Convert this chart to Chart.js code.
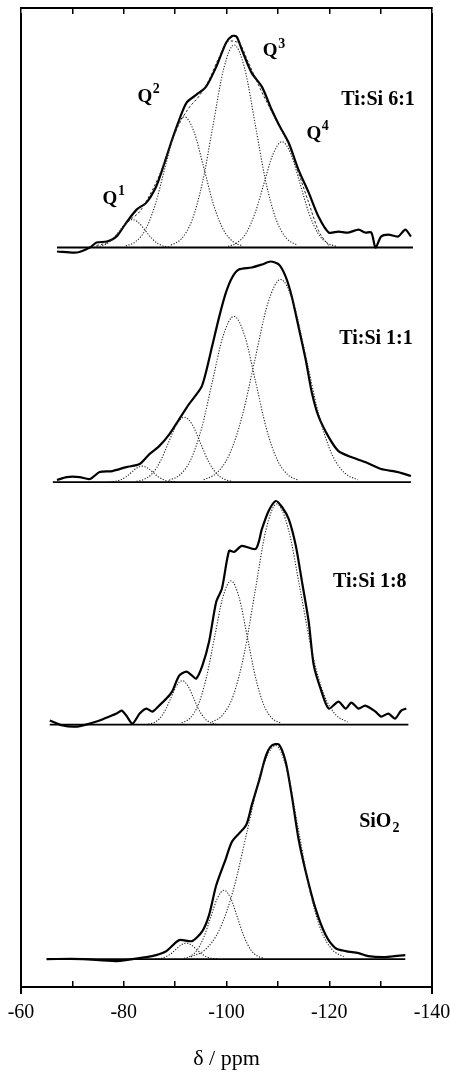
<!DOCTYPE html>
<html>
<head>
<meta charset="utf-8">
<script src="https://cdn.jsdelivr.net/npm/chart.js@4.4.1/dist/chart.umd.min.js"></script>
<style>
  html, body { margin: 0; padding: 0; background: #fff; }
</style>
</head>
<body>
<canvas id="nmr" width="450" height="1078"></canvas>
<script>
// 29Si MAS NMR spectra, shift in ppm, intensity in a.u. above each panel's baseline
const panelNames = ['Ti:Si 6:1', 'Ti:Si 1:1', 'Ti:Si 1:8', 'SiO2'];
const panelOffsets = [747, 512, 269, 34];
const baselineRange = [[-67.0, -136.3], [-66.2, -135.9], [-65.6, -135.4], [-65.0, -134.8]];
const qNames = ['1', '2', '3', '4'];

// Ti:Si 6:1
const exp61 = [[-67.0,-4],[-70.9,-5],[-73.4,0],[-74.7,5],[-76.7,6],[-78.6,11],[-80.5,25],[-82.5,38],[-84.4,45],[-86.3,61],[-87.5,78],[-89.4,108],[-90.8,128],[-92.2,145],[-94.1,153],[-96.0,161],[-98.0,181],[-99.9,205],[-101.1,212],[-102.0,211],[-103.0,198],[-104.9,175],[-106.9,161],[-108.8,138],[-110.2,123],[-112.1,105],[-114.0,78],[-116.0,55],[-117.9,31],[-119.9,15],[-121.8,16],[-123.7,15],[-125.7,18],[-127.0,15],[-128.2,15],[-129.0,0],[-130.1,11],[-131.5,13],[-133.4,11],[-134.8,18],[-135.9,11]];
const fit61 = [[-74.7,2],[-77.2,6],[-79.2,16],[-81.1,27],[-83.1,36],[-85.0,52],[-86.9,72],[-88.9,100],[-90.8,124],[-92.7,140],[-94.7,152],[-96.6,168],[-98.5,190],[-100.5,207],[-102.4,205],[-104.3,185],[-106.3,162],[-108.2,142],[-110.2,122],[-112.1,103],[-114.0,75],[-116.0,45],[-117.9,17],[-119.9,2]];
const q1_61 = [[-74.2,0.3],[-75.45,1.2],[-76.7,3.8],[-77.95,9.1],[-79.2,17.0],[-80.45,24.7],[-81.7,28],[-82.95,24.7],[-84.2,17.0],[-85.45,9.1],[-86.7,3.8],[-87.95,1.2],[-89.2,0.3]];
const q2_61 = [[-80.4,1.5],[-82.3,5.8],[-84.2,17.7],[-86.1,42.5],[-88.0,79.5],[-89.9,115.6],[-91.8,131],[-93.7,115.6],[-95.6,79.5],[-97.5,42.5],[-99.4,17.7],[-101.3,5.8],[-103.2,1.5]];
const q3_61 = [[-89.2,2.3],[-91.25,8.9],[-93.3,27.5],[-95.35,65.9],[-97.4,123.1],[-99.45,179.1],[-101.5,203],[-103.55,179.1],[-105.6,123.1],[-107.65,65.9],[-109.7,27.5],[-111.75,8.9],[-113.8,2.3]];
const q4_61 = [[-100.3,1.2],[-102.05,4.7],[-103.8,14.3],[-105.55,34.4],[-107.3,64.3],[-109.05,93.5],[-110.8,106],[-112.55,93.5],[-114.3,64.3],[-116.05,34.4],[-117.8,14.3],[-119.55,4.7],[-121.3,1.2]];

// Ti:Si 1:1
const exp11 = [[-67.0,2],[-68.9,5],[-71.4,5],[-73.4,3],[-75.3,10],[-77.8,11],[-80.5,15],[-83.1,18],[-85.0,28],[-86.9,36],[-88.9,48],[-90.8,63],[-92.7,78],[-95.1,95],[-96.0,110],[-97.2,136],[-98.6,166],[-99.9,190],[-101.1,205],[-102.4,213],[-104.9,215],[-106.9,218],[-108.6,221],[-110.2,218],[-111.5,206],[-112.7,186],[-114.0,156],[-115.4,123],[-116.6,90],[-117.9,66],[-119.9,45],[-121.8,31],[-124.3,25],[-127.0,20],[-130.1,13],[-133.4,10],[-135.9,6]];
const c1_11 = [[-77.3,0.2],[-78.35,0.7],[-79.4,2.2],[-80.45,5.2],[-81.5,9.7],[-82.55,14.1],[-83.6,16],[-84.65,14.1],[-85.7,9.7],[-86.75,5.2],[-87.8,2.2],[-88.85,0.7],[-89.9,0.2]];
const c2_11 = [[-82.5,0.7],[-84.05,2.9],[-85.6,8.8],[-87.15,21.1],[-88.7,39.4],[-90.25,57.4],[-91.8,65],[-93.35,57.4],[-94.9,39.4],[-96.45,21.1],[-98.0,8.8],[-99.55,2.9],[-101.1,0.7]];
const c3_11 = [[-88.85,1.8],[-90.95,7.3],[-93.05,22.5],[-95.15,53.9],[-97.25,100.7],[-99.35,146.5],[-101.45,166],[-103.55,146.5],[-105.65,100.7],[-107.75,53.9],[-109.85,22.5],[-111.95,7.3],[-114.05,1.8]];
const c4_11 = [[-95.55,2.3],[-98.05,8.9],[-100.55,27.5],[-103.05,65.9],[-105.55,123.1],[-108.05,179.1],[-110.55,203],[-113.05,179.1],[-115.55,123.1],[-118.05,65.9],[-120.55,27.5],[-123.05,8.9],[-125.55,2.3]];

// Ti:Si 1:8
const exp18 = [[-65.6,4],[-68.1,-1],[-70.9,-2],[-73.4,1],[-75.3,4],[-77.2,8],[-78.6,11],[-79.6,14],[-80.5,9],[-81.7,1],[-83.1,11],[-84.4,16],[-85.6,13],[-86.9,19],[-88.3,26],[-89.4,33],[-90.8,49],[-92.2,53],[-93.3,49],[-94.1,46],[-95.3,59],[-96.6,83],[-98.0,123],[-99.1,136],[-100.5,174],[-101.5,173],[-103.0,179],[-105.7,176],[-106.9,196],[-108.2,214],[-109.6,224],[-110.8,218],[-112.1,206],[-113.5,179],[-114.6,146],[-116.0,103],[-117.0,59],[-118.5,33],[-119.9,16],[-121.8,23],[-123.2,16],[-124.3,22],[-125.7,16],[-127.0,19],[-129.0,13],[-130.1,8],[-131.5,11],[-132.8,6],[-134.0,14],[-135.0,16]];
const c1_18 = [[-84.78,0.5],[-85.88,1.9],[-86.98,6.0],[-88.08,14.3],[-89.18,26.7],[-90.28,38.8],[-91.38,44],[-92.48,38.8],[-93.58,26.7],[-94.68,14.3],[-95.78,6.0],[-96.88,1.9],[-97.98,0.5]];
const c2_18 = [[-91.27,1.6],[-92.87,6.3],[-94.47,19.5],[-96.07,46.8],[-97.67,87.3],[-99.27,127.1],[-100.87,144],[-102.47,127.1],[-104.07,87.3],[-105.67,46.8],[-107.27,19.5],[-108.87,6.3],[-110.47,1.6]];
const c3_18 = [[-97.18,2.5],[-99.28,9.7],[-101.38,29.9],[-103.48,71.8],[-105.58,134.0],[-107.68,195.0],[-109.78,221],[-112.08,195.0],[-114.38,134.0],[-116.68,71.8],[-118.98,29.9],[-121.28,9.7],[-123.58,2.5]];

// SiO2
const expSi = [[-65.0,0],[-72.0,0],[-78.6,-2],[-84.4,2],[-86.3,4],[-88.3,8],[-90.8,19],[-93.3,18],[-95.3,28],[-96.6,44],[-98.0,74],[-99.9,101],[-101.1,118],[-103.8,134],[-104.9,154],[-106.3,178],[-107.7,204],[-108.8,214],[-110.2,215],[-111.5,198],[-112.7,164],[-114.0,121],[-115.4,88],[-117.3,51],[-119.3,24],[-121.2,11],[-123.2,8],[-125.7,6],[-127.6,3],[-130.9,2],[-134.8,4]];
const c1_Si = [[-86.16,0.2],[-87.16,0.7],[-88.16,2.2],[-89.16,5.2],[-90.16,9.7],[-91.16,14.1],[-92.16,16],[-93.16,14.1],[-94.16,9.7],[-95.16,5.2],[-96.16,2.2],[-97.16,0.7],[-98.16,0.2]];
const c2_Si = [[-91.72,0.8],[-93.02,3.0],[-94.32,9.3],[-95.62,22.4],[-96.92,41.8],[-98.22,60.9],[-99.52,69],[-100.82,60.9],[-102.12,41.8],[-103.42,22.4],[-104.72,9.3],[-106.02,3.0],[-107.32,0.8]];
const c3_Si = [[-93.09,2.4],[-95.84,9.4],[-98.59,29.0],[-101.34,69.5],[-104.09,129.8],[-106.84,188.9],[-109.59,214],[-111.79,188.9],[-113.99,129.8],[-116.19,69.5],[-118.39,29.0],[-120.59,9.4],[-122.79,2.4]];

// where the text sits, in axis units (ppm, intensity)
const panelLabelAt = [[-129.5, 895], [-129.1, 656], [-127.9, 412], [-128.2, 172]];
const qLabelAt = [[-77.3, 796], [-84.1, 898], [-108.5, 944], [-117.0, 861]];

const experimental = [exp61, exp11, exp18, expSi];
const fits = [fit61, null, null, null];
const components = [[q1_61, q2_61, q3_61, q4_61], [c1_11, c2_11, c3_11, c4_11], [c1_18, c2_18, c3_18], [c1_Si, c2_Si, c3_Si]];

const shift = (pts, off) => pts.map(([x, y]) => ({ x, y: y + off }));

const datasets = [];
panelOffsets.forEach((off, i) => {
  datasets.push({
    data: baselineRange[i].map(x => ({ x, y: off })),
    borderColor: '#000', borderWidth: 1.8
  });
  components[i].forEach(c => datasets.push({
    data: shift(c, off),
    borderColor: '#222', borderWidth: 1.1, borderDash: [1.2, 1.6],
    cubicInterpolationMode: 'monotone'
  }));
  if (fits[i]) datasets.push({
    data: shift(fits[i], off),
    borderColor: '#222', borderWidth: 1, borderDash: [2.5, 2],
    cubicInterpolationMode: 'monotone'
  });
  datasets.push({
    data: shift(experimental[i], off),
    borderColor: '#000', borderWidth: 2.2, tension: 0.25
  });
});

const serif = '"Liberation Serif", "DejaVu Serif", serif';

const textMarks = {
  id: 'textMarks',
  afterDatasetsDraw(chart) {
    const { ctx, scales: { x, y } } = chart;
    ctx.save();
    ctx.fillStyle = '#000';
    ctx.textBaseline = 'middle';
    // panel names
    panelNames.forEach((name, i) => {
      const px = x.getPixelForValue(panelLabelAt[i][0]);
      const py = y.getPixelForValue(panelLabelAt[i][1]);
      ctx.font = 'bold 20px ' + serif;
      if (name === 'SiO2') {
        ctx.textAlign = 'right';
        ctx.fillText('SiO', px + 20, py);
        ctx.font = 'bold 14px ' + serif;
        ctx.textAlign = 'left';
        ctx.fillText('2', px + 21, py + 7);
      } else {
        ctx.textAlign = 'center';
        ctx.fillText(name, px, py);
      }
    });
    // Q^n labels
    qNames.forEach((n, i) => {
      const px = x.getPixelForValue(qLabelAt[i][0]);
      const py = y.getPixelForValue(qLabelAt[i][1]);
      ctx.font = 'bold 19px ' + serif;
      ctx.textAlign = 'center';
      ctx.fillText('Q', px, py);
      ctx.font = 'bold 14px ' + serif;
      ctx.textAlign = 'left';
      ctx.fillText(n, px + 8, py - 7);
    });
    ctx.restore();
  }
};

const edgeAxis = {
  display: true,
  ticks: { display: false },
  grid: { drawOnChartArea: false, drawTicks: false },
  border: { color: '#000', width: 2 }
};

new Chart(document.getElementById('nmr'), {
  type: 'line',
  data: { datasets },
  options: {
    responsive: false,
    animation: false,
    parsing: false,
    layout: { padding: { left: 21, right: 18, top: 14, bottom: 0 } },
    elements: { point: { radius: 0 }, line: { fill: false } },
    plugins: { legend: { display: false }, tooltip: { enabled: false } },
    scales: {
      x: {
        type: 'linear', position: 'bottom', reverse: true, min: -140, max: -60,
        afterFit: s => { s.paddingLeft = 0; s.paddingRight = 0; },
        ticks: {
          stepSize: 10, padding: 20, color: '#000', maxRotation: 0, autoSkip: false,
          font: { family: serif, size: 20 },
          callback: v => (v % 20 === 0 ? String(v) : '')
        },
        grid: { drawOnChartArea: false, tickLength: -6, color: '#000', lineWidth: 1.5 },
        border: { color: '#000', width: 2 },
        title: {
          display: true, text: 'δ / ppm', color: '#000',
          font: { family: serif, size: 22 }, padding: { top: 0.6, bottom: 0 }
        }
      },
      xTop: {
        type: 'linear', position: 'top', reverse: true, min: -140, max: -60,
        afterFit: s => { s.paddingLeft = 0; s.paddingRight = 0; },
        ticks: { display: false, stepSize: 10 },
        grid: { drawOnChartArea: false, tickLength: -6, color: '#000', lineWidth: 1.5 },
        border: { color: '#000', width: 2 }
      },
      y: Object.assign({ type: 'linear', position: 'left', min: 0, max: 981 }, edgeAxis),
      yRight: Object.assign({ type: 'linear', position: 'right', min: 0, max: 981 }, edgeAxis)
    }
  },
  plugins: [textMarks]
});
</script>
</body>
</html>
